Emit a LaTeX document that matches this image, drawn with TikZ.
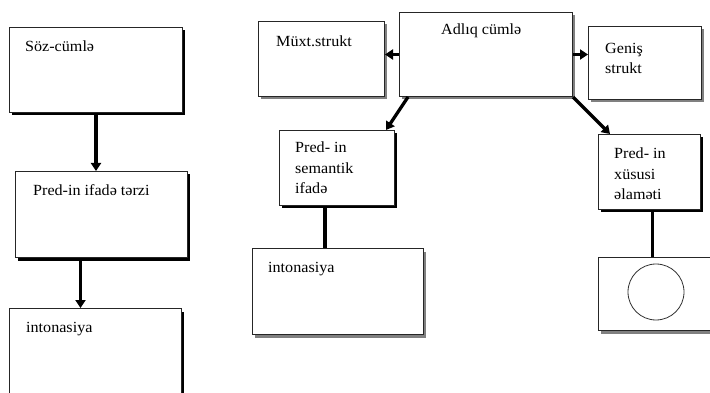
\documentclass[tikz,border=0pt]{standalone}
\usepackage{fontspec}
\setmainfont{Liberation Serif}[FakeStretch=1.04]
\usetikzlibrary{arrows.meta,shadows}
\begin{document}
\begin{tikzpicture}[x=1pt,y=-1pt,
  box/.style={draw=black!85, line width=1pt, fill=white, inner sep=0pt, anchor=north west,
    general shadow={shadow xshift=2pt, shadow yshift=-3pt, fill=black}},
  gbox/.style={box, general shadow={shadow xshift=2pt, shadow yshift=-3pt, fill=black!50}},
  txt/.style={inner sep=0pt, anchor=north west, align=left, font=\fontsize{15.5}{20.5}\selectfont},
  arr/.style={line width=3.2pt, -{Triangle[length=8pt,width=10pt]}},
  conn/.style={line width=3.5pt}
]
\useasboundingbox (0,0) rectangle (710,393);
\clip (0,0) rectangle (710,393);
\fill[white] (0,0) rectangle (710,393);
% left column
\node[box, minimum width=173pt, minimum height=85pt] (b1) at (9,27) {};
\node[txt] (t1) at (25,41) {Söz-cümlə};
\node[box, minimum width=172pt, minimum height=86pt] (b2) at (15,171) {};
\node[txt] (t2) at (33,184) {Pred-in ifadə tərzi};
\node[box, minimum width=172pt, minimum height=110pt] (b3) at (9,308) {};
\node[txt] (t3) at (26,322) {intonasiya};
% right part
\node[gbox, minimum width=126pt, minimum height=75pt] (mx) at (258,21) {};
\node[txt] (tmx) at (276,36) {Müxt.strukt};
\node[gbox, minimum width=173pt, minimum height=84pt] (ad) at (399,12) {};
\node[txt] (tad) at (441,24) {Adlıq cümlə};
\node[gbox, minimum width=113pt, minimum height=73pt] (gen) at (588,26) {};
\node[txt] (tgen) at (605,43) {Geniş\\strukt};
\node[box, minimum width=115pt, minimum height=75pt] (sem) at (279,130) {};
\node[txt] (tsem) at (295,142) {Pred- in\\semantik\\ifadə};
\node[box, minimum width=102pt, minimum height=75pt] (xu) at (598,134) {};
\node[txt] (txu) at (614,148) {Pred- in\\xüsusi\\əlaməti};
\node[gbox, minimum width=171pt, minimum height=86pt] (in2) at (252,248) {};
\node[txt] (tin2) at (268,262) {intonasiya};
\node[gbox, minimum width=125pt, minimum height=73pt] (cb) at (598,257) {};
\node[draw=black!80, line width=0.8pt, circle, minimum size=56pt, inner sep=0pt] (ci) at (656,292) {};
% connectors
\draw[arr] (b1.south) -- (b1.south |- b2.north);
\draw[arr] ([xshift=-21pt]b2.south) -- ([xshift=-21pt]b2.south |- b3.north);
\draw[arr] (ad.west) -- (ad.west -| mx.east);
\draw[arr] (ad.east) -- (ad.east -| gen.west);
\draw[arr] ([xshift=9pt]ad.south west) -- ([xshift=-9pt]sem.north east);
\draw[arr] (ad.south east) -- ([xshift=12pt]xu.north west);
\draw[conn] ([xshift=-12pt]sem.south) -- ([xshift=-12pt]sem.south |- in2.north);
\draw[conn] ([xshift=3pt]xu.south) -- ([xshift=3pt]xu.south |- cb.north);
\end{tikzpicture}
\end{document}
